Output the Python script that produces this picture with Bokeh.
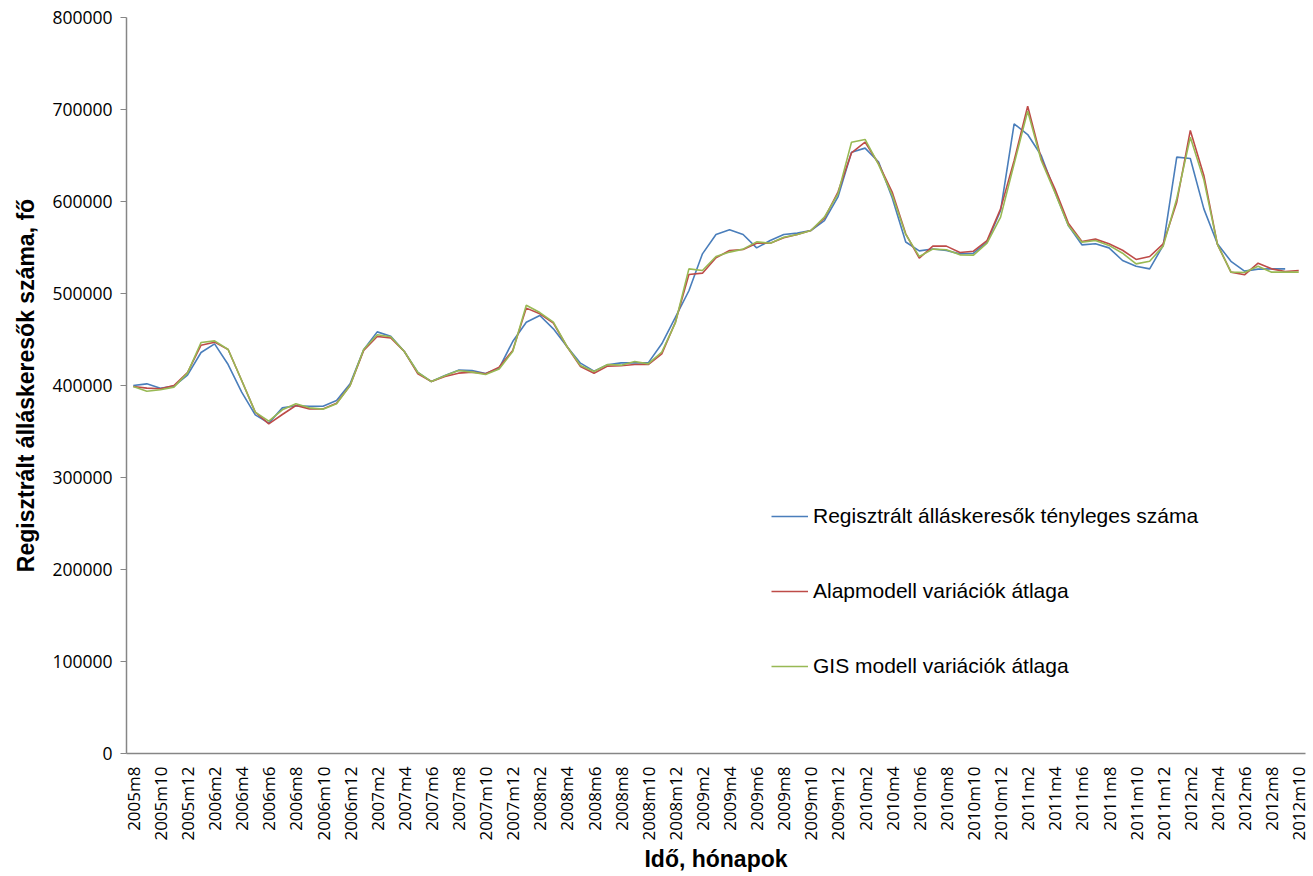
import math
from bokeh.plotting import figure
from bokeh.models import (Range1d, FixedTicker, BasicTickFormatter, Legend, LegendItem,
                          ColumnDataSource)
from bokeh.embed import file_html
from bokeh.resources import INLINE

# ---- data ----
start_year, start_month, n_months = 2005, 8, 87
months = []
y, m = start_year, start_month
for _ in range(n_months):
    months.append(f"{y}m{m}")
    m += 1
    if m > 12:
        m = 1
        y += 1

actual = [400000, 401800, 397100, 399300, 411200, 435900, 445300, 422800, 392800, 368100,
          359100, 375700, 377900, 377500, 377500, 383700, 401800, 438800, 458300, 453600,
          437000, 414100, 404300, 410900, 416700, 416300, 413000, 418800, 447800, 468800,
          476100, 461600, 442400, 424300, 415600, 422500, 424600, 424600, 424600, 445300,
          474000, 503000, 543100, 564100, 569200, 564100, 549600, 557600, 564100, 565600,
          568500, 579300, 605000, 653600, 658000, 643000, 604000, 556000, 546300, 548300,
          546700, 543100, 543800, 555800, 590200, 684400, 672800, 650000, 611000, 573900,
          552900, 554000, 549600, 535900, 529700, 526800, 552300, 648200, 646700, 592000,
          554000, 535000, 524300, 526500, 526800, 526800, float("nan")]

alapmodell = [399000, 397100, 396400, 400000, 414100, 443800, 447100, 439100, 405400, 371000,
              358300, 368500, 378300, 374600, 374600, 380800, 400000, 438000, 453300, 451800,
              437000, 412600, 404300, 409800, 413400, 414500, 412700, 420000, 438000, 484100,
              477900, 467800, 442400, 420700, 413400, 421100, 421400, 422800, 422800, 434400,
              468800, 520700, 522100, 538800, 546700, 547800, 554700, 554700, 560500, 564100,
              568500, 581800, 610200, 652900, 664500, 641000, 610200, 564900, 538400, 551500,
              551500, 544600, 546000, 557600, 592000, 644600, 703600, 646400, 614000, 576500,
              556500, 559100, 554000, 547000, 537000, 540200, 554000, 599300, 677200, 628300,
              553400, 523200, 520300, 533000, 526800, 523900, 525000]

gis = [398900, 393800, 395300, 398200, 413400, 446700, 448500, 439100, 405400, 371000,
       361200, 373600, 380100, 375700, 374300, 380100, 400000, 439100, 455100, 453000,
       437000, 414100, 404300, 410500, 416300, 414500, 412000, 418000, 437000, 487300,
       479300, 468800, 442400, 421700, 415200, 422800, 422100, 426100, 423500, 436200,
       468000, 526800, 525000, 540200, 545000, 548200, 556100, 554700, 561200, 564100,
       568500, 583000, 608300, 664500, 667400, 640000, 607000, 564200, 540200, 548200,
       547500, 542000, 541700, 554700, 583000, 640900, 698200, 644600, 610000, 573900,
       555800, 557600, 552300, 543800, 532200, 535100, 551500, 603000, 669900, 623500,
       553400, 523200, 522800, 529700, 523200, 523200, 523200]

series_names = ["Regisztrált álláskeresők tényleges száma",
                "Alapmodell variációk átlaga",
                "GIS modell variációk átlaga"]
series_colors = ["#4A7EBB", "#BE4B48", "#98B954"]
y_ticks = [0, 100000, 200000, 300000, 400000, 500000, 600000, 700000, 800000]

x_title = "Idő, hónapok"
y_title = "Regisztrált álláskeresők száma, fő"

# ---- figure ----
xs = list(range(len(months)))
src = ColumnDataSource(dict(x=xs, actual=actual, alap=alapmodell, gis=gis))

p = figure(width=1310, height=876, output_backend="svg", toolbar_location=None,
           x_range=Range1d(-0.5, len(months) - 0.5), y_range=Range1d(0, 800000),
           min_border_left=126, min_border_right=5, min_border_top=17, min_border_bottom=123)
p.outline_line_color = None
p.xgrid.grid_line_color = None
p.ygrid.grid_line_color = None
p.background_fill_color = "white"
p.border_fill_color = "white"

r1 = p.line("x", "actual", source=src, color=series_colors[0], line_width=1.6)
r2 = p.line("x", "alap", source=src, color=series_colors[1], line_width=1.6)
r3 = p.line("x", "gis", source=src, color=series_colors[2], line_width=1.6)

axis_color = "#868686"
tick_font = "Open Sans"

p.xaxis.ticker = FixedTicker(ticks=xs[::2])
p.xaxis.major_label_overrides = {i: months[i] for i in xs}
p.xaxis.major_label_orientation = math.pi / 2
p.xaxis.major_tick_line_color = None
p.xaxis.minor_tick_line_color = None
p.xaxis.axis_line_color = axis_color
p.xaxis.axis_line_width = 1.5
p.xaxis.major_label_text_font = tick_font
p.xaxis.major_label_text_font_size = "17px"
p.xaxis.major_label_text_color = "#000000"
p.xaxis.major_label_standoff = 7
p.xaxis.axis_label = x_title
p.xaxis.axis_label_text_font = "Liberation Sans"
p.xaxis.axis_label_text_font_style = "bold"
p.xaxis.axis_label_text_font_size = "23px"
p.xaxis.axis_label_text_color = "#000000"
p.xaxis.axis_label_standoff = 2

p.yaxis.ticker = FixedTicker(ticks=y_ticks)
p.yaxis.formatter = BasicTickFormatter(use_scientific=False)
p.yaxis.minor_tick_line_color = None
p.yaxis.major_tick_line_color = axis_color
p.yaxis.major_tick_out = 6
p.yaxis.major_tick_in = 0
p.yaxis.axis_line_color = axis_color
p.yaxis.axis_line_width = 1.5
p.yaxis.major_label_text_font = tick_font
p.yaxis.major_label_text_font_size = "17.5px"
p.yaxis.major_label_text_color = "#000000"
p.yaxis.major_label_standoff = 8
p.yaxis.axis_label = y_title
p.yaxis.axis_label_text_font = "Liberation Sans"
p.yaxis.axis_label_text_font_style = "bold"
p.yaxis.axis_label_text_font_size = "23px"
p.yaxis.axis_label_text_color = "#000000"
p.yaxis.axis_label_standoff = 10

legend = Legend(items=[LegendItem(label=series_names[0], renderers=[r1]),
                       LegendItem(label=series_names[1], renderers=[r2]),
                       LegendItem(label=series_names[2], renderers=[r3])],
                location=(645, 75), orientation="vertical",
                border_line_color=None, background_fill_alpha=0,
                padding=0, margin=0, spacing=51,
                glyph_width=37, glyph_height=24, label_height=24,
                label_standoff=5,
                label_text_font="Liberation Sans", label_text_font_size="21px",
                label_text_color="#000000")
p.add_layout(legend, "center")

open("out.html", "w").write(file_html(p, INLINE))
